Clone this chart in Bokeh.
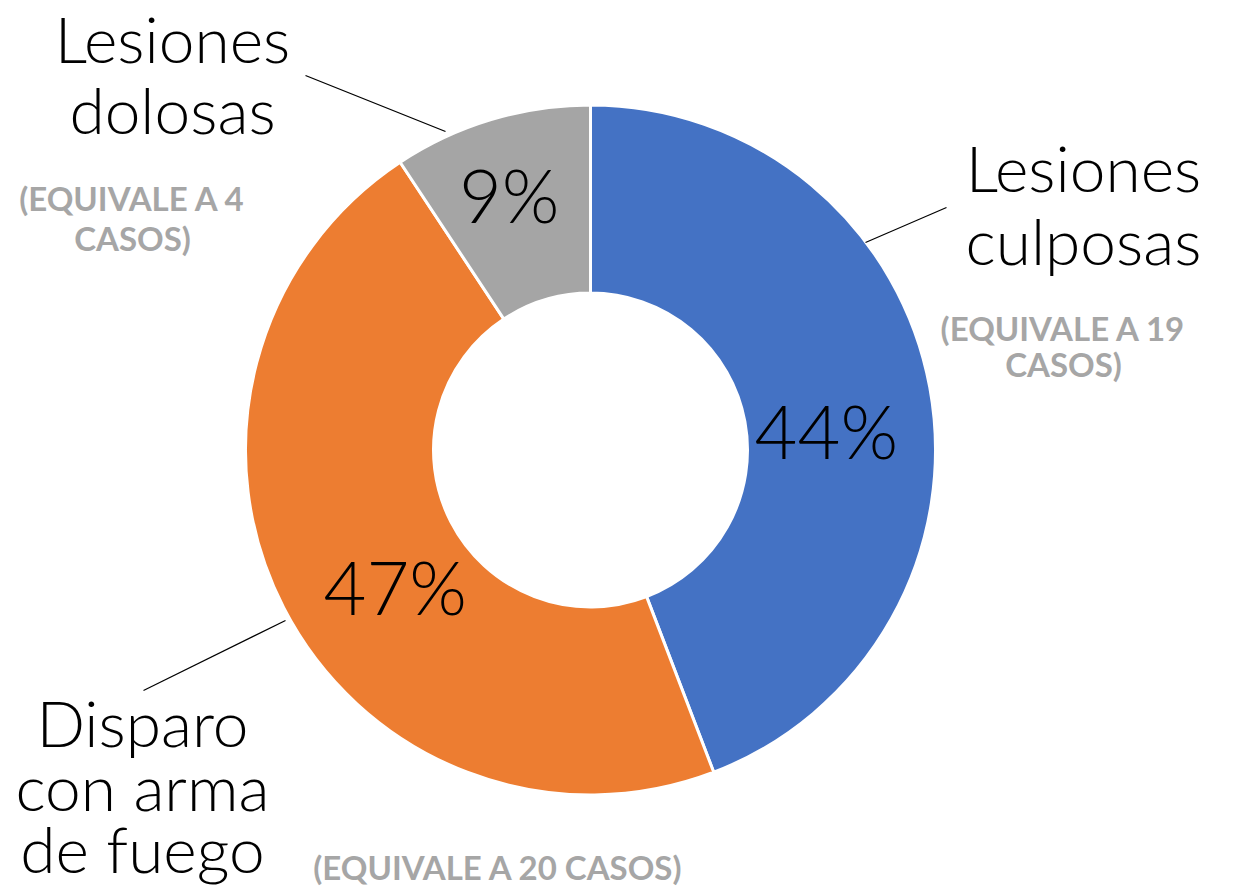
import numpy as np
from bokeh.plotting import figure
from bokeh.models import Range1d, ColumnDataSource
from bokeh.core.properties import value
from bokeh.embed import file_html
from bokeh.resources import INLINE

# ---- data ----
categories = ["Lesiones culposas", "Disparo con arma de fuego", "Lesiones dolosas"]
cases = [19, 20, 4]
colors = ["#4472C4", "#ED7D31", "#A5A5A5"]
name_lines = [["Lesiones", "culposas"], ["Disparo", "con arma", "de fuego"], ["Lesiones", "dolosas"]]
case_lines = [["(EQUIVALE A 19", "CASOS)"], ["(EQUIVALE A 20 CASOS)"], ["(EQUIVALE A 4", "CASOS)"]]

# ---- layout (pixels, y measured from top) ----
W, H = 1240, 890
CX, CY = 590, 449.5
R_OUT, R_IN = 345, 157
LIGHT = "'Lato Light', Lato, sans-serif"
BOLD = "Lato, sans-serif"
NAME_SIZE, PCT_SIZE, CASE_SIZE = 64, 74, 33
BASE_K = 0.43  # renderer baseline correction (fraction of font size)

def Y(py, size=0):
    return H - (py - BASE_K * size)

p = figure(width=W, height=H, x_range=Range1d(0, W), y_range=Range1d(0, H),
           output_backend="svg", toolbar_location=None, min_border=0,
           background_fill_color="white", border_fill_color="white")
p.axis.visible = False
p.grid.visible = False
p.outline_line_color = None

total = sum(cases)
frac = np.array(cases) / total
cum = np.concatenate([[0], np.cumsum(frac)])
start = np.pi / 2 - cum[:-1] * 2 * np.pi
end = np.pi / 2 - cum[1:] * 2 * np.pi

src = ColumnDataSource(dict(start=start, end=end, color=colors, cat=categories))
p.annular_wedge(x=CX, y=H - CY, inner_radius=R_IN, outer_radius=R_OUT,
                start_angle="start", end_angle="end", direction="clock",
                fill_color="color", line_color="white", line_width=3, source=src)

# percent labels: mid-angle of each ring segment, nudged like the original
mid = (cum[:-1] + cum[1:]) / 2 * 2 * np.pi  # clockwise from top
R_MID = (R_OUT + R_IN) / 2
pct_dx = [-11, 28, -9]
pct_dy = [58, 54, 17]
pct_x, pct_y, pct_txt = [], [], []
for i in range(len(cases)):
    px = CX + R_MID * np.sin(mid[i]) + pct_dx[i]
    py = CY - R_MID * np.cos(mid[i]) + pct_dy[i]
    pct_x.append(px)
    pct_y.append(Y(py, PCT_SIZE))
    pct_txt.append(f"{round(frac[i] * 100)}%")
p.text(x=pct_x, y=pct_y, text=pct_txt, text_font=value(LIGHT), text_font_size=f"{PCT_SIZE}px",
       text_align="center", text_baseline="alphabetic", text_color="black")

# category names
name_pos = [(1083, [195, 268]), (142, [750, 814, 876]), (172, [66, 137])]
for lines, (x, ys) in zip(name_lines, name_pos):
    p.text(x=[x] * len(lines), y=[Y(v, NAME_SIZE) for v in ys], text=lines, text_font=value(LIGHT),
           text_font_size=f"{NAME_SIZE}px", text_align="center", text_baseline="alphabetic",
           text_color="black")

# case counts
case_pos = [(1063, [342, 378]), (498, [881]), (132, [212, 252])]
for lines, (x, ys) in zip(case_lines, case_pos):
    p.text(x=[x] * len(lines), y=[Y(v, CASE_SIZE) for v in ys], text=lines, text_font=value(BOLD),
           text_font_size=f"{CASE_SIZE}px", text_font_style="bold", text_align="center",
           text_baseline="alphabetic", text_color="#A6A6A6")

# leader lines
leaders = [((865, 242), (946, 207)), ((285, 620), (143, 690)), ((445, 131), (305, 75))]
for (x0, y0), (x1, y1) in leaders:
    p.line(x=[x0, x1], y=[H - y0, H - y1], line_color="black", line_width=1.2)

open("out.html", "w").write(file_html(p, INLINE))
